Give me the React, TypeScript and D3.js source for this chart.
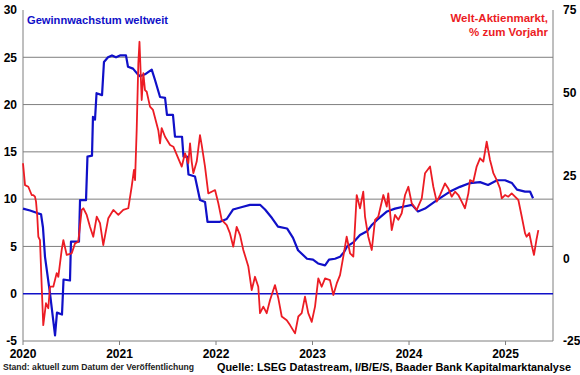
import React from "react";
import * as d3 from "d3";

// Gewinnwachstum weltweit (left axis, %), decimal years
const blueYears = [2020.000,2020.073,2020.155,2020.187,2020.207,2020.228,2020.280,2020.332,2020.352,2020.404,2020.420,2020.487,2020.497,2020.580,2020.591,2020.653,2020.668,2020.715,2020.725,2020.746,2020.762,2020.819,2020.839,2020.881,2020.922,2020.964,2021.005,2021.067,2021.088,2021.140,2021.181,2021.212,2021.264,2021.334,2021.368,2021.420,2021.472,2021.492,2021.554,2021.575,2021.648,2021.663,2021.699,2021.715,2021.782,2021.834,2021.886,2021.912,2022.041,2022.111,2022.176,2022.280,2022.352,2022.456,2022.508,2022.580,2022.642,2022.736,2022.798,2022.850,2022.943,2023.005,2023.057,2023.130,2023.171,2023.233,2023.285,2023.326,2023.358,2023.420,2023.492,2023.565,2023.617,2023.668,2023.772,2023.855,2023.938,2024.031,2024.093,2024.166,2024.249,2024.321,2024.425,2024.528,2024.632,2024.736,2024.819,2024.912,2024.995,2025.067,2025.119,2025.202,2025.254,2025.285];
const blueValues = [9.0,8.8,8.5,8.4,7.0,3.9,0.0,-4.4,-2.0,-2.2,1.5,1.4,5.5,5.5,9.9,9.9,14.5,14.6,18.7,18.4,21.2,21.0,24.5,25.0,25.2,25.0,25.2,25.2,24.0,23.8,23.3,23.0,23.2,23.7,22.6,20.8,20.7,18.9,18.9,16.6,16.6,14.5,14.5,12.6,12.4,9.9,9.7,7.6,7.6,7.9,8.9,9.2,9.4,9.4,8.9,8.0,7.1,6.9,5.9,4.6,3.7,3.6,3.2,3.0,3.6,3.7,3.9,4.4,5.0,5.4,6.2,6.6,7.3,7.8,8.7,9.0,9.2,9.4,8.7,9.0,9.6,10.1,10.8,11.3,11.7,11.8,11.5,12.0,12.0,11.7,11.0,10.8,10.8,10.1];

// Welt-Aktienmarkt, % zum Vorjahr (right axis)
const redYears = [2020.000,2020.021,2020.055,2020.090,2020.107,2020.124,2020.135,2020.148,2020.159,2020.176,2020.194,2020.210,2020.238,2020.262,2020.280,2020.314,2020.349,2020.366,2020.401,2020.418,2020.453,2020.505,2020.539,2020.573,2020.608,2020.625,2020.660,2020.694,2020.728,2020.764,2020.798,2020.832,2020.884,2020.936,2020.988,2021.039,2021.091,2021.126,2021.150,2021.161,2021.178,2021.195,2021.207,2021.230,2021.247,2021.264,2021.282,2021.316,2021.347,2021.402,2021.420,2021.437,2021.472,2021.524,2021.558,2021.609,2021.645,2021.679,2021.713,2021.731,2021.748,2021.765,2021.800,2021.834,2021.852,2021.886,2021.920,2021.955,2021.990,2022.024,2022.059,2022.111,2022.145,2022.179,2022.214,2022.249,2022.283,2022.335,2022.370,2022.404,2022.438,2022.456,2022.490,2022.525,2022.560,2022.611,2022.646,2022.681,2022.733,2022.767,2022.819,2022.853,2022.888,2022.922,2022.956,2022.992,2023.026,2023.060,2023.095,2023.130,2023.181,2023.216,2023.251,2023.285,2023.319,2023.354,2023.389,2023.423,2023.458,2023.492,2023.526,2023.544,2023.578,2023.614,2023.648,2023.682,2023.734,2023.769,2023.785,2023.821,2023.855,2023.889,2023.924,2023.959,2023.993,2024.028,2024.080,2024.132,2024.166,2024.218,2024.252,2024.287,2024.321,2024.373,2024.407,2024.442,2024.477,2024.511,2024.546,2024.580,2024.615,2024.632,2024.666,2024.701,2024.736,2024.770,2024.805,2024.839,2024.857,2024.874,2024.909,2024.943,2024.961,2024.995,2025.029,2025.064,2025.098,2025.133,2025.168,2025.202,2025.218,2025.246,2025.271,2025.295,2025.320,2025.340];
const redValues = [28.7,22.1,21.6,19.1,19.1,18.6,17.1,12.6,6.5,5.5,-8.6,-20.2,-13.6,-15.1,-8.6,-8.6,-4.5,-5.6,2.5,5.5,1.0,1.5,4.5,5.0,14.6,15.1,13.1,9.5,6.5,12.6,10.6,4.0,12.1,14.6,13.1,14.6,15.1,21.6,26.7,23.6,38.7,58.9,65.4,47.8,55.9,50.8,50.3,45.8,44.8,38.7,34.7,39.3,36.7,34.2,33.7,30.2,27.7,31.7,28.7,34.7,29.2,25.7,29.2,37.2,34.2,27.7,19.6,20.1,20.6,16.6,11.6,10.0,7.5,3.5,9.5,7.0,2.5,-2.5,-9.6,-5.6,-8.6,-16.6,-14.6,-16.6,-12.6,-8.1,-12.1,-17.6,-18.7,-20.2,-22.7,-17.6,-16.6,-11.6,-16.6,-19.2,-14.6,-6.1,-8.6,-6.1,-6.6,-11.1,-7.6,-5.1,0.5,6.5,1.5,0.5,19.1,15.1,20.1,12.6,6.5,2.5,11.6,12.6,19.1,15.6,19.6,8.5,13.1,11.6,13.6,19.1,21.6,16.6,14.6,18.1,25.7,27.7,21.6,17.1,19.1,22.6,21.1,18.6,20.1,19.1,17.1,15.1,19.6,23.6,23.1,27.7,30.2,29.2,35.2,29.7,27.7,25.7,23.6,21.1,18.1,19.1,18.6,19.6,18.6,17.6,12.6,7.6,6.5,7.6,4.0,1.0,5.5,8.5];

const leftTicks = [-5, 0, 5, 10, 15, 20, 25, 30];
const rightTicks = [-25, 0, 25, 50, 75];
const yearTicks = [2020, 2021, 2022, 2023, 2024, 2025];

const W = 580, H = 375;
const BLUE = "#1010c8";
const RED = "#ec1c24";
const GRAY = "#7f7f7f";
const FONT = "Arial, 'Liberation Sans', sans-serif";

export default function App() {
  const x = d3.scaleLinear().domain([2020, 2025.492]).range([23, 553]);
  const yL = d3.scaleLinear().domain([-5, 30]).range([341, 10]);
  const yR = d3.scaleLinear().domain([-25, 75]).range([341, 10]);

  const blueData = blueYears.map((t, i) => [t, blueValues[i]] as [number, number]);
  const redData = redYears.map((t, i) => [t, redValues[i]] as [number, number]);

  const blueLine = d3.line<[number, number]>().x(d => x(d[0])).y(d => yL(d[1]));
  const redLine = d3.line<[number, number]>().x(d => x(d[0])).y(d => yR(d[1]));

  const [x0, x1] = x.range();

  return (
    <svg width={W} height={H} style={{ position: "absolute", left: 0, top: 0, background: "#fff" }} fontFamily={FONT}>
      {/* grid */}
      {leftTicks.filter(v => v > 0 && v < 30).map(v => (
        <line key={v} x1={x0} x2={x1} y1={yL(v)} y2={yL(v)} stroke={GRAY} strokeWidth={1} />
      ))}
      {/* frame */}
      <line x1={x0} x2={x0} y1={yL(30)} y2={yL(-5)} stroke={GRAY} strokeWidth={1} />
      <line x1={x1} x2={x1} y1={yL(30)} y2={yL(-5)} stroke={GRAY} strokeWidth={1} />
      <line x1={x0} x2={x1} y1={yL(-5)} y2={yL(-5)} stroke={GRAY} strokeWidth={1} />
      {yearTicks.map(t => (
        <line key={t} x1={x(t)} x2={x(t)} y1={yL(-5)} y2={yL(-5) + 4} stroke={GRAY} strokeWidth={1} />
      ))}
      {/* zero line */}
      <line x1={x0} x2={x1} y1={yL(0)} y2={yL(0)} stroke={BLUE} strokeWidth={1.6} />

      {/* series */}
      <path d={blueLine(blueData) || ""} fill="none" stroke={BLUE} strokeWidth={2.2} strokeLinejoin="round" />
      <path d={redLine(redData) || ""} fill="none" stroke={RED} strokeWidth={1.8} strokeLinejoin="round" />

      {/* left axis labels */}
      {leftTicks.map(v => (
        <text key={v} x={17} y={yL(v)} dy="0.36em" textAnchor="end" fontSize={12} fontWeight="bold" fill="#000">{v}</text>
      ))}
      {/* right axis labels */}
      {rightTicks.map(v => (
        <text key={v} x={563} y={yR(v)} dy="0.36em" textAnchor="start" fontSize={12} fontWeight="bold" fill="#000">{v}</text>
      ))}
      {/* year labels */}
      {yearTicks.map(t => (
        <text key={t} x={x(t)} y={358} textAnchor="middle" fontSize={12} fontWeight="bold" fill="#000">{t}</text>
      ))}

      {/* legends */}
      <text x={27} y={24} fontSize={11.5} fontWeight="bold" fill={BLUE} textLength={141} lengthAdjust="spacingAndGlyphs">Gewinnwachstum weltweit</text>
      <text x={548} y={22} textAnchor="end" fontSize={11.5} fontWeight="bold" fill={RED}>Welt-Aktienmarkt,</text>
      <text x={548} y={36} textAnchor="end" fontSize={11.5} fontWeight="bold" fill={RED}>% zum Vorjahr</text>

      {/* footer */}
      <text x={3} y={370} fontSize={9} fontWeight="bold" fill="#222" textLength={191} lengthAdjust="spacingAndGlyphs">Stand: aktuell zum Datum der Veröffentlichung</text>
      <text x={217} y={371} fontSize={11} fontWeight="bold" fill="#000" textLength={354} lengthAdjust="spacingAndGlyphs">Quelle: LSEG Datastream, I/B/E/S, Baader Bank Kapitalmarktanalyse</text>
    </svg>
  );
}
